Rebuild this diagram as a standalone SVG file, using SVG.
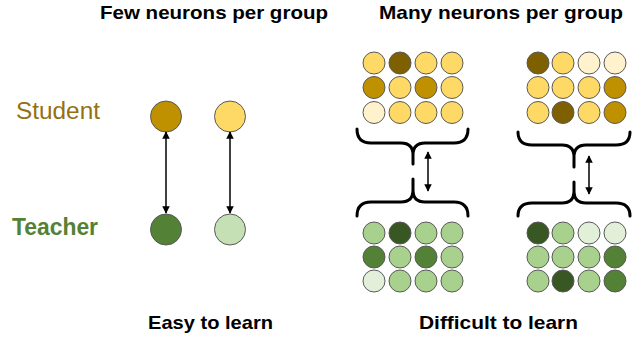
<svg xmlns="http://www.w3.org/2000/svg" width="642" height="339" viewBox="0 0 642 339">
<style>
.t{font-family:"Liberation Sans",Arial,sans-serif;font-weight:bold;fill:#000}
.n{stroke:#595959;stroke-width:1}
.b{fill:none;stroke:#000;stroke-width:3;stroke-linecap:round}
.a{stroke:#000;stroke-width:1.5;marker-start:url(#ah);marker-end:url(#ah)}
.y1{fill:#FFD966}.y2{fill:#BF9000}.y3{fill:#7F6000}.y0{fill:#FFF2CC}
.g1{fill:#A9D18E}.g2{fill:#538135}.g3{fill:#385723}.g0{fill:#E2F0D9}
</style>
<defs>
<marker id="ah" viewBox="0 0 10 10" refX="9" refY="5" markerWidth="5" markerHeight="5" orient="auto-start-reverse"><path d="M0,0 L10,5 L0,10 z" fill="#000"/></marker>
</defs>
<g id="titles">
<text class="t" x="100" y="18.5" font-size="18.5" textLength="228" lengthAdjust="spacingAndGlyphs">Few neurons per group</text>
<text class="t" x="379" y="18.5" font-size="18.5" textLength="244" lengthAdjust="spacingAndGlyphs">Many neurons per group</text>
<text class="t" x="148" y="329" font-size="19" textLength="125" lengthAdjust="spacingAndGlyphs">Easy to learn</text>
<text class="t" x="419" y="329" font-size="19" textLength="159" lengthAdjust="spacingAndGlyphs">Difficult to learn</text>
</g>
<g id="labels">
<text x="16" y="119" font-family="Liberation Sans,Arial,sans-serif" font-size="23" fill="#957010" textLength="84" lengthAdjust="spacingAndGlyphs">Student</text>
<text x="12" y="235" font-family="Liberation Sans,Arial,sans-serif" font-weight="bold" font-size="23" fill="#538135" textLength="86" lengthAdjust="spacingAndGlyphs">Teacher</text>
</g>
<g id="student-few">
<circle class="n y2" cx="166" cy="116.5" r="15.5"/>
<circle class="n y1" cx="230" cy="116.5" r="15.5"/>
</g>
<g id="teacher-few">
<circle class="n g2" cx="166" cy="229.5" r="15.5"/>
<circle class="n" fill="#C5E0B4" cx="230" cy="229.5" r="15.5"/>
</g>
<g id="student-many-1">
<circle class="n y1" cx="374" cy="63" r="11"/><circle class="n y3" cx="400" cy="63" r="11"/><circle class="n y1" cx="426" cy="63" r="11"/><circle class="n y1" cx="452" cy="63" r="11"/>
<circle class="n y2" cx="374" cy="87.5" r="11"/><circle class="n y1" cx="400" cy="87.5" r="11"/><circle class="n y2" cx="426" cy="87.5" r="11"/><circle class="n y1" cx="452" cy="87.5" r="11"/>
<circle class="n y0" cx="374" cy="112.5" r="11"/><circle class="n y1" cx="400" cy="112.5" r="11"/><circle class="n y1" cx="426" cy="112.5" r="11"/><circle class="n y1" cx="452" cy="112.5" r="11"/>
</g>
<g id="student-many-2">
<circle class="n y3" cx="538" cy="63" r="11"/><circle class="n y1" cx="563" cy="63" r="11"/><circle class="n y0" cx="589" cy="63" r="11"/><circle class="n y0" cx="615" cy="63" r="11"/>
<circle class="n y1" cx="538" cy="87.5" r="11"/><circle class="n y1" cx="563" cy="87.5" r="11"/><circle class="n y1" cx="589" cy="87.5" r="11"/><circle class="n y2" cx="615" cy="87.5" r="11"/>
<circle class="n y1" cx="538" cy="112.5" r="11"/><circle class="n y3" cx="563" cy="112.5" r="11"/><circle class="n y1" cx="589" cy="112.5" r="11"/><circle class="n y2" cx="615" cy="112.5" r="11"/>
</g>
<g id="teacher-many-1">
<circle class="n g1" cx="374" cy="233" r="11"/><circle class="n g3" cx="400" cy="233" r="11"/><circle class="n g1" cx="426" cy="233" r="11"/><circle class="n g1" cx="452" cy="233" r="11"/>
<circle class="n g2" cx="374" cy="257" r="11"/><circle class="n g1" cx="400" cy="257" r="11"/><circle class="n g2" cx="426" cy="257" r="11"/><circle class="n g1" cx="452" cy="257" r="11"/>
<circle class="n g0" cx="374" cy="281" r="11"/><circle class="n g1" cx="400" cy="281" r="11"/><circle class="n g1" cx="426" cy="281" r="11"/><circle class="n g1" cx="452" cy="281" r="11"/>
</g>
<g id="teacher-many-2">
<circle class="n g3" cx="538" cy="233" r="11"/><circle class="n g1" cx="563" cy="233" r="11"/><circle class="n g0" cx="589" cy="233" r="11"/><circle class="n g0" cx="615" cy="233" r="11"/>
<circle class="n g1" cx="538" cy="257" r="11"/><circle class="n g1" cx="563" cy="257" r="11"/><circle class="n g1" cx="589" cy="257" r="11"/><circle class="n g2" cx="615" cy="257" r="11"/>
<circle class="n g1" cx="538" cy="281" r="11"/><circle class="n g3" cx="563" cy="281" r="11"/><circle class="n g1" cx="589" cy="281" r="11"/><circle class="n g2" cx="615" cy="281" r="11"/>
</g>
<g id="braces">
<path class="b" d="M357,129 Q357,143 371,143 H401 Q413,143 413,155 V164 M468,129 Q468,143 454,143 H425 Q413,143 413,155"/>
<path class="b" d="M357,216 Q357,202 371,202 H401 Q413,202 413,190 V179 M468,216 Q468,202 454,202 H425 Q413,202 413,190"/>
<path class="b" d="M518,132 Q518,145 532,145 H562 Q574,145 574,157 V167 M630,132 Q630,145 616,145 H586 Q574,145 574,157"/>
<path class="b" d="M518,216 Q518,203 532,203 H562 Q574,203 574,191 V182 M630,216 Q630,203 616,203 H586 Q574,203 574,191"/>
</g>
<g id="connectors">
<line class="a" x1="166" y1="132" x2="166" y2="213"/>
<line class="a" x1="230" y1="132" x2="230" y2="213"/>
<line class="a" x1="428" y1="152" x2="428" y2="191"/>
<line class="a" x1="589" y1="156" x2="589" y2="194"/>
</g>
</svg>
